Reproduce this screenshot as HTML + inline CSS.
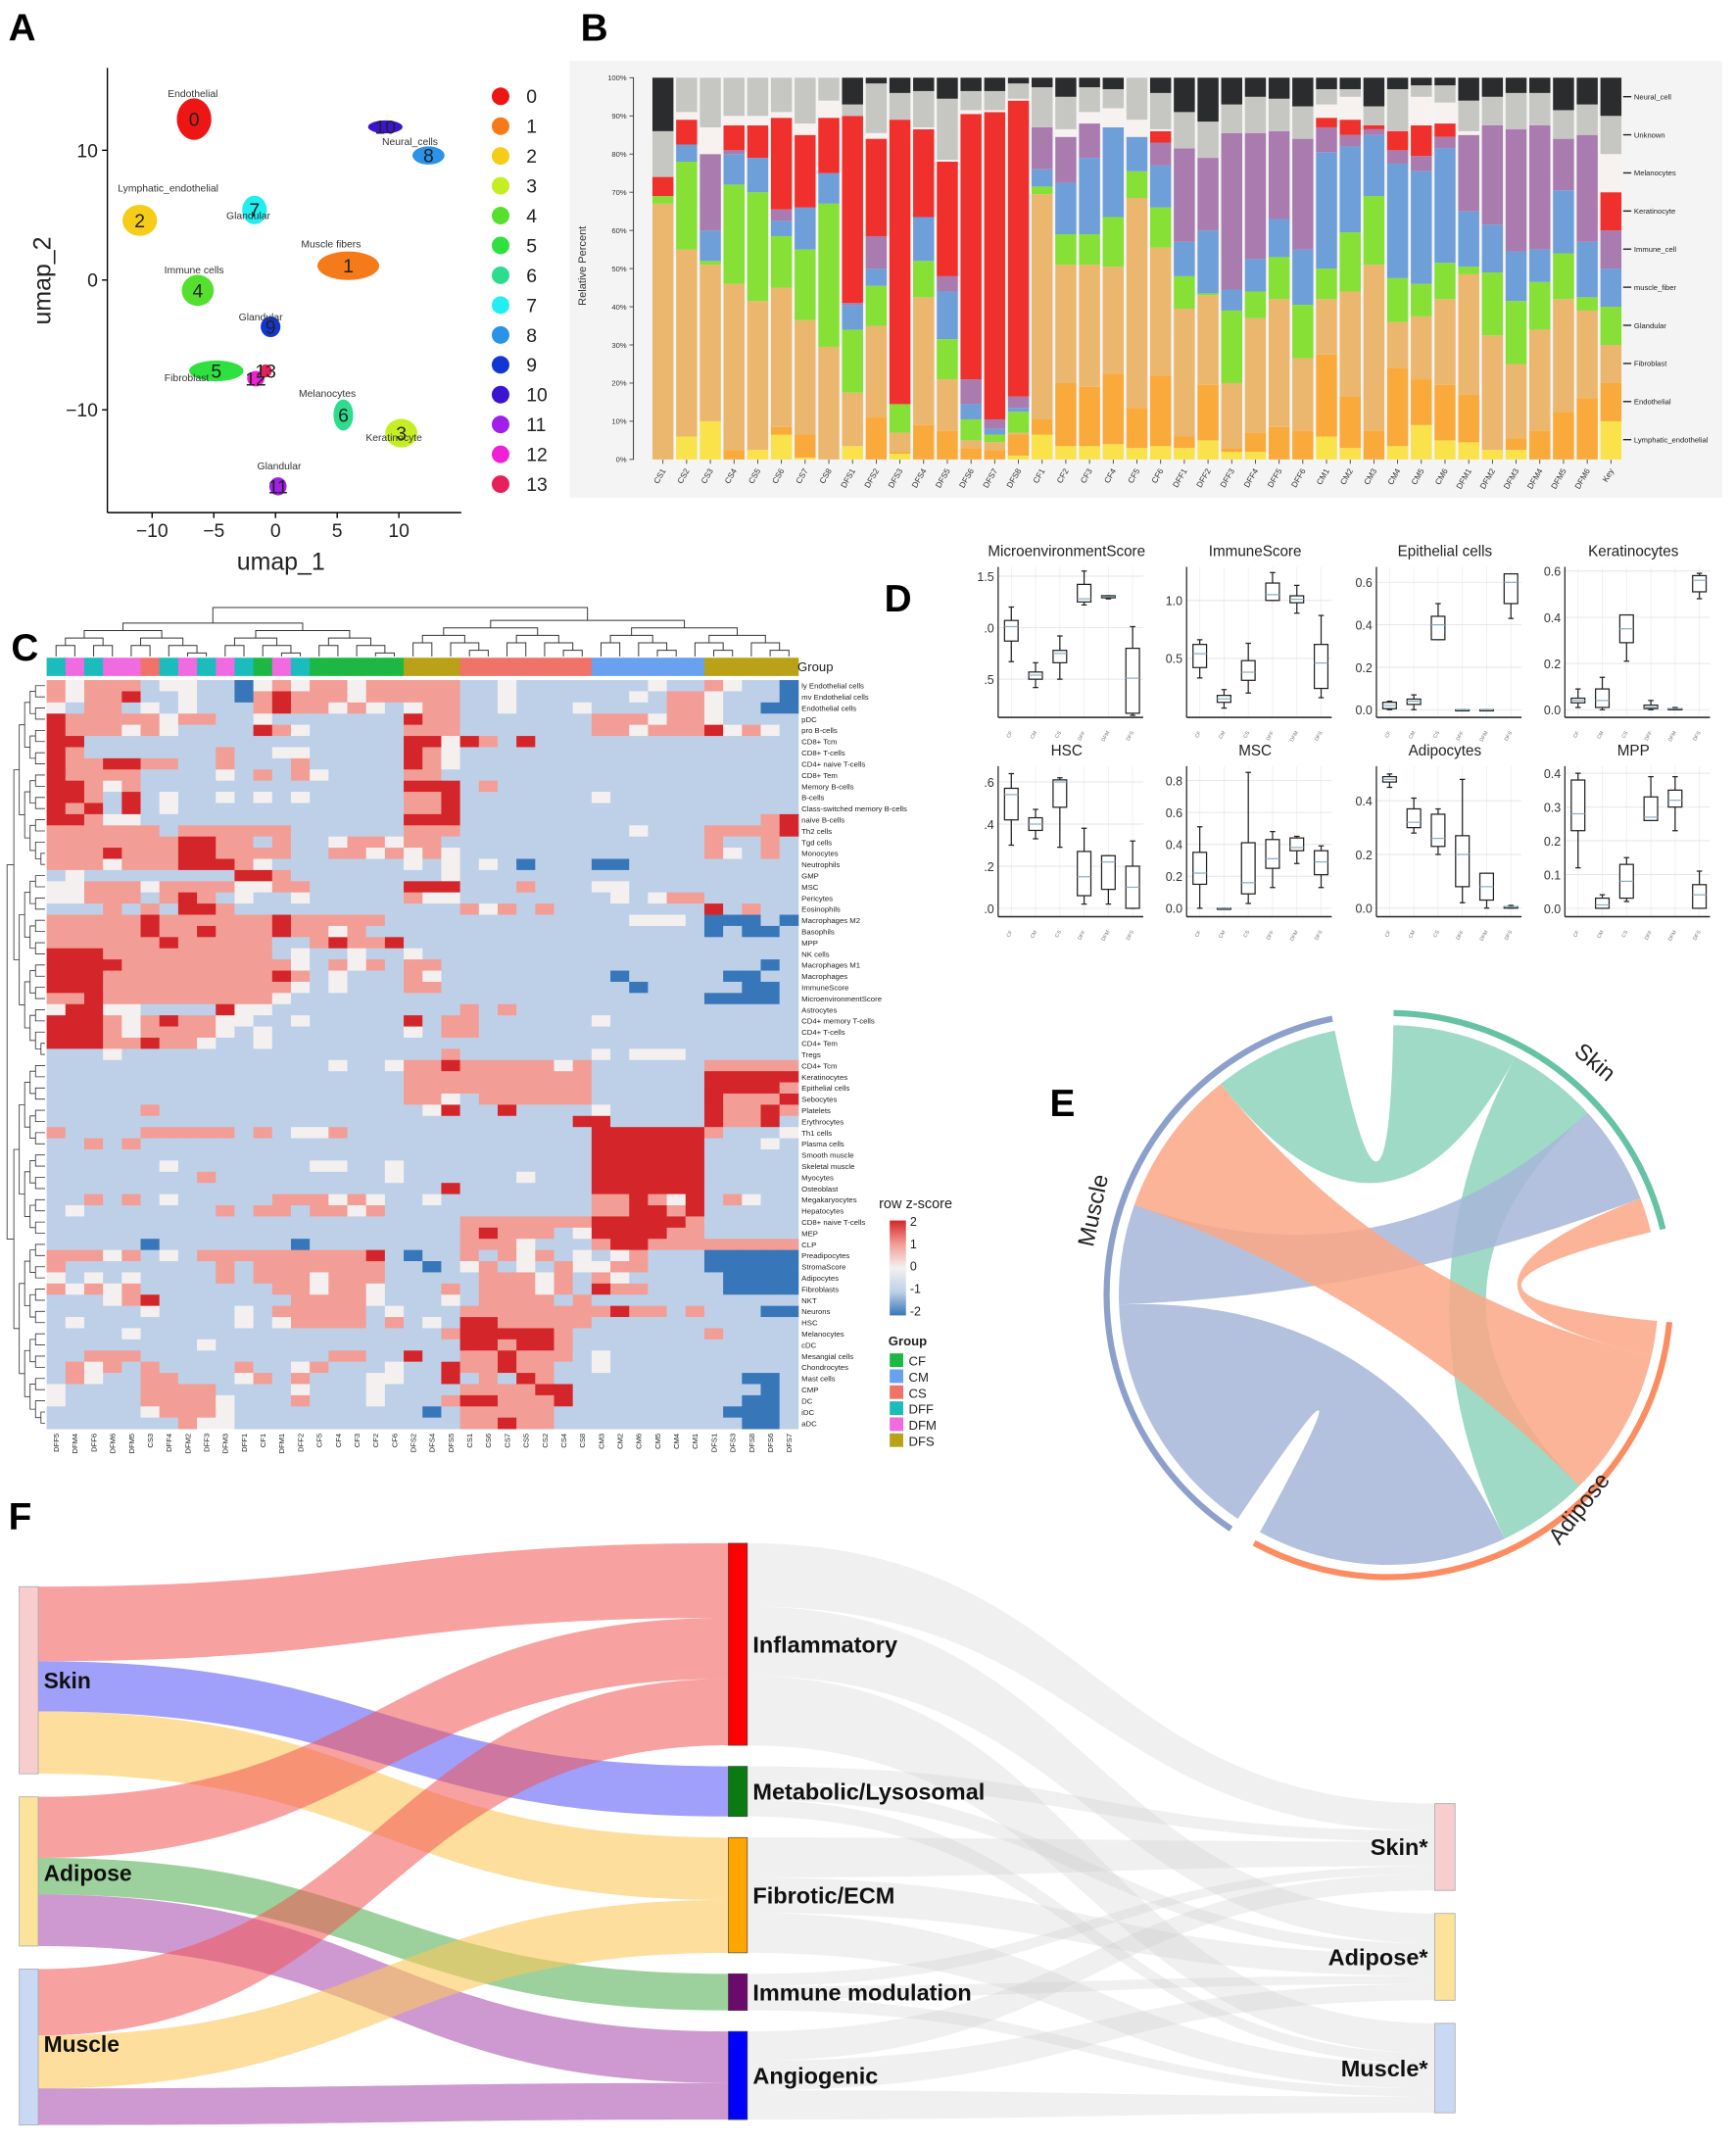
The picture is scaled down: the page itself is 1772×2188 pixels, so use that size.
<!DOCTYPE html>
<html><head><meta charset="utf-8">
<style>
html,body{margin:0;padding:0;background:#fff}
svg{display:block}
text{font-family:"Liberation Sans",sans-serif}
</style></head>
<body>
<svg id="fig" xmlns="http://www.w3.org/2000/svg" width="1772" height="2188" viewBox="0 0 1280 1581">
<rect x="0" y="0" width="1280" height="1581" fill="#fff"/>
</svg>
<script>
const NS='http://www.w3.org/2000/svg';
const svg=document.getElementById('fig');
function mk(p,tag,attrs,txt){const e=document.createElementNS(NS,tag);for(const k in attrs)e.setAttribute(k,attrs[k]);if(txt!==undefined)e.textContent=txt;p.appendChild(e);return e;}

/* ===================== PANEL A: UMAP ===================== */
const umapClusters=['0','1','2','3','4','5','6','7','8','9','10','11','12','13'];
const umapX=[-6.6,5.9,-11,10.2,-6.3,-4.8,5.5,-1.7,12.4,-0.4,8.9,0.2,-1.6,-0.8];
const umapY=[12.4,1.1,4.6,-11.8,-0.8,-7,-10.4,5.4,9.6,-3.6,11.8,-15.9,-7.6,-7];
const umapRx=[1.4,2.5,1.4,1.3,1.3,2.2,0.8,1.0,1.3,0.8,1.4,0.7,0.7,0.5];
const umapRy=[1.6,1.1,1.2,1.1,1.2,0.8,1.2,1.1,0.7,0.8,0.5,0.7,0.6,0.5];
const umapTickX=[-10,-5,0,5,10];
const umapTickY=[10,0,-10];
const umapLabelText=['Endothelial','Lymphatic_endothelial','Glandular','Muscle fibers','Immune cells','Glandular','Fibroblast','Melanocytes','Keratinocyte','Glandular','Neural_cells'];
const umapLabelX=[-6.7,-8.7,-2.2,4.5,-6.6,-1.2,-7.2,4.2,9.6,0.3,10.9];
const umapLabelY=[14.1,6.8,4.7,2.5,0.5,-3.1,-7.8,-9.0,-12.4,-14.6,10.4];
const umapColors=['#ee1515','#f57a1a','#f5cc18','#c4ee22','#55e030','#2ee040','#2edc8e','#22eef0','#2a92e8','#1236d4','#3a14d0','#a020e8','#ee22d4','#e6205a'];
const gA=mk(svg,'g',{});


const ax=u=>203+9.1*u, ay=u=>206.5-9.57*u;
for(let i=0;i<umapClusters.length;i++){
  const e=mk(gA,'ellipse',{cx:ax(umapX[i]),cy:ay(umapY[i]),rx:umapRx[i]*9.1,ry:umapRy[i]*9.57,fill:umapColors[i]});
  
  
  const t=mk(gA,'text',{x:ax(umapX[i]),y:ay(umapY[i])+5,'font-size':14,'text-anchor':'middle',fill:'#222'},umapClusters[i]);
  
  
}
for(let i=0;i<umapLabelText.length;i++){
  const t=mk(gA,'text',{x:ax(umapLabelX[i]),y:ay(umapLabelY[i]),'font-size':7.5,'text-anchor':'middle',fill:'#333'},umapLabelText[i]);
  
  
}
mk(gA,'line',{x1:79,y1:50,x2:79,y2:378,stroke:'#000','stroke-width':1});
mk(gA,'line',{x1:79,y1:378,x2:340,y2:378,stroke:'#000','stroke-width':1});
for(const v of umapTickX){
  mk(gA,'line',{x1:ax(v),y1:378,x2:ax(v),y2:382,stroke:'#000'});
  const t=mk(gA,'text',{x:ax(v),y:396,'font-size':14,'text-anchor':'middle',fill:'#222'},v<0?'\u2212'+(-v):String(v));
  
  
}
for(const v of umapTickY){
  mk(gA,'line',{x1:75,y1:ay(v),x2:79,y2:ay(v),stroke:'#000'});
  const t=mk(gA,'text',{x:72,y:ay(v)+5,'font-size':14,'text-anchor':'end',fill:'#222'},v<0?'\u2212'+(-v):String(v));
  
  
}
let t0=mk(gA,'text',{x:207,y:420,'font-size':18,'text-anchor':'middle',fill:'#222'},'umap_1');


t0=mk(gA,'text',{x:37,y:207,'font-size':18,'text-anchor':'middle',fill:'#222',transform:'rotate(-90 37 207)'},'umap_2');


for(let i=0;i<umapClusters.length;i++){
  const c=mk(gA,'circle',{cx:369,cy:71+i*22,r:6.5,fill:umapColors[i]});
  
  
  const t=mk(gA,'text',{x:388,y:76+i*22,'font-size':14,fill:'#222'},umapClusters[i]);
  
  
}

/* ===================== PANEL B: stacked bars ===================== */
const bBars=['CS1','CS2','CS3','CS4','CS5','CS6','CS7','CS8','DFS1','DFS2','DFS3','DFS4','DFS5','DFS6','DFS7','DFS8','CF1','CF2','CF3','CF4','CF5','CF6','DFF1','DFF2','DFF3','DFF4','DFF5','DFF6','CM1','CM2','CM3','CM4','CM5','CM6','DFM1','DFM2','DFM3','DFM4','DFM5','DFM6','Key'];
const bCellTypes=['Lymphatic_endothelial','Endothelial','Fibroblast','Glandular','muscle_fiber','Immune_cell','Keratinocyte','Melanocytes','Unknown','Neural_cell'];
const cumLymph=[0,6,10,0,2.5,6.5,0.5,0,3.5,0,1.5,0,0,0,0,1,6.5,3.5,3.5,4,3,3.5,3,5,2,2,0,0,6,3,0,3.5,9,5,4.5,2.5,2.5,0,0,0,10];
const cumEndo=[0,6,10,2.5,2.5,8.5,6.5,0,3.5,11,2,9,7.5,3,2.5,6.5,10.5,20,19,22.5,13.5,22,6,19.5,3,7,8.5,7.5,27.5,16.5,7.5,24,21,19.5,17,2.5,5.5,7.5,12.5,16,20];
const cumFibro=[67,55,51,46,41.5,45,36.5,29.5,17.5,35,7,42.5,21,5,4.5,7,69.5,51,51,50.5,68.5,55.5,39.5,43,20,37,42,26.5,42,44,51,36,37.5,42,48.5,32.5,25,34,42,39,30];
const cumGland=[69,78,52,72,70,58.5,55,67,34,45.5,14.5,52,31.5,10.5,6.5,12.5,71.5,59,59,63.5,75.5,66,48,43.5,39,44,53,40.5,50,59.5,69,47.5,46,51.5,50.5,49,41.5,46.5,54,42.5,40];
const cumMuscle=[69,82.5,60,80,79,62.5,66,75,40.5,50,14.5,63.5,44,14.5,8,13.5,76,72.5,79,87,84.5,77,57,60,44.5,52.5,63,55,80.5,82,85,77.5,75.5,81.5,65,61.5,54.5,55,70.5,57,50];
const cumImmune=[69,82.5,80,81,79,65.5,66,75,41,58.5,14.5,63.5,48,21,10.5,16.5,87,84.5,88,87,84.5,83,81.5,79,85.5,85.5,86,84,87,85,86.5,81,79.5,84.5,85,87.5,86.5,87.5,84,85,60];
const cumKera=[74,89,80,87.5,87.5,89.5,85,89.5,90,84,89,86.5,78,90.5,91,94,87,84.5,88,87,84.5,86,81.5,79,85.5,85.5,86,84,89.5,89,87.5,86,87.5,88,85,87.5,86.5,87.5,84,85,70];
const cumMelano=[74,91,87,90,90,91,88,94,90,85.5,89,87,78.5,91.5,91.5,94.5,87,86.5,91,92,89,86.5,81.5,79,85.5,85.5,86,84,93,95,87.5,86,95,93.5,86,87.5,86.5,87.5,84,85,80];
const cumUnknown=[86,100,100,100,100,100,100,100,93,98.5,96,96.5,94.5,96.5,96.5,98.5,97.5,95,97.5,97,100,96,91,88.5,93,95,94.5,92.5,97,97,92.5,97,98,98,94,95,96,96,91.5,93,90];
const cumNeural=bBars.map(()=>100);
const bSeries=[cumLymph,cumEndo,cumFibro,cumGland,cumMuscle,cumImmune,cumKera,cumMelano,cumUnknown,cumNeural];
const bTicks=[0,10,20,30,40,50,60,70,80,90,100];
const bColors=['#f9e24a','#f9aa3a','#ebb76f','#86e036','#6f9fd8','#a97bae','#f0302c','#f7f2ef','#c6c6c2','#2b2c2e'];
const gB=mk(svg,'g',{});


mk(gB,'rect',{x:420,y:45,width:850,height:322,fill:'#f4f4f4'});
const by=p=>338.8-p*2.815, bx=i=>481+i*17.48;
for(let i=0;i<bBars.length;i++){
  let prev=0;
  for(let s=0;s<bSeries.length;s++){
    const top=bSeries[s][i];
    if(top>prev){
      const r=mk(gB,'rect',{x:bx(i),y:by(top),width:15.5,height:by(prev)-by(top),fill:bColors[s]});
      
      
      prev=top;
    }
  }
  mk(gB,'line',{x1:bx(i)+7.75,y1:339,x2:bx(i)+7.75,y2:342,stroke:'#333','stroke-width':0.6});
  const t=mk(gB,'text',{x:bx(i)+10,y:347,'font-size':6,'text-anchor':'end',fill:'#333',transform:'rotate(-60 '+(bx(i)+10)+' 347)'},bBars[i]);
  
  
}
mk(gB,'line',{x1:467,y1:57,x2:467,y2:339,stroke:'#333','stroke-width':0.7});
for(const v of bTicks){
  mk(gB,'line',{x1:464,y1:by(v),x2:467,y2:by(v),stroke:'#333','stroke-width':0.6});
  const t=mk(gB,'text',{x:462,y:by(v)+2,'font-size':5.5,'text-anchor':'end',fill:'#333'},v+'%');
  
  
}
t0=mk(gB,'text',{x:432,y:196,'font-size':8,'text-anchor':'middle',fill:'#333',transform:'rotate(-90 432 196)'},'Relative Percent');


for(let k=0;k<bCellTypes.length;k++){
  const yy=71.3+k*28.1;
  mk(gB,'line',{x1:1197,y1:yy,x2:1203,y2:yy,stroke:'#222','stroke-width':1});
  const t=mk(gB,'text',{x:1205,y:yy+2,'font-size':5.5,fill:'#222'},bCellTypes[bCellTypes.length-1-k]);
  
  
}

/* ===================== PANEL C: heatmap ===================== */
const hmCols=['DFF5','DFM4','DFF6','DFM6','DFM5','CS3','DFF4','DFM2','DFF3','DFM3','DFF1','CF1','DFM1','DFF2','CF5','CF4','CF3','CF2','CF6','DFS2','DFS4','DFS5','CS1','CS6','CS7','CS5','CS2','CS4','CS8','CM3','CM2','CM6','CM5','CM4','CM1','DFS1','DFS3','DFS8','DFS6','DFS7'];
const hmRowNames=['ly Endothelial cells','mv Endothelial cells','Endothelial cells','pDC','pro B-cells','CD8+ Tcm','CD8+ T-cells','CD4+ naive T-cells','CD8+ Tem','Memory B-cells','B-cells','Class-switched memory B-cells','naive B-cells','Th2 cells','Tgd cells','Monocytes','Neutrophils','GMP','MSC','Pericytes','Eosinophils','Macrophages M2','Basophils','MPP','NK cells','Macrophages M1','Macrophages','ImmuneScore','MicroenvironmentScore','Astrocytes','CD4+ memory T-cells','CD4+ T-cells','CD4+ Tem','Tregs','CD4+ Tcm','Keratinocytes','Epithelial cells','Sebocytes','Platelets','Erythrocytes','Th1 cells','Plasma cells','Smooth muscle','Skeletal muscle','Myocytes','Osteoblast','Megakaryocytes','Hepatocytes','CD8+ naive T-cells','MEP','CLP','Preadipocytes','StromaScore','Adipocytes','Fibroblasts','NKT','Neurons','HSC','Melanocytes','cDC','Mesangial cells','Chondrocytes','Mast cells','CMP','DC','iDC','aDC'];
const hmValues=[
"dcddd bccbbacd cddcdd ddd bbcbbbb bbbcbb dcbba","dcdde bbcbbade dddcdd ddd bbcbbbb bbcbdd cbbba","cbddb cbcbbbde ddcdcb cdd bbcbbbc bbbbdd cbbaa",
"edddd dcddbbcb bbbbbb edd bbbbbbb dddcdd cbbbb","edddc dcbbbbed cbbbbb ddd bbbbbbb ddcddd ecdcb","eebbb bbbbbbbb bbbbbb eec edbebbb bbbbbb bbbbb",
"edbbb bbbbdbbc cbbbbb edc bbbbbbb bbbbbb bbbbb","eddee ddbbdbbb dbbbbb edc bbbbbbb bbbbbb bbbbb","edddd bbbbcbdb dcbbbb ddb bbbbbbb bbbbbb bbbbb",
"eedcd bbbbbbbb bbbbbb eee bdbbbbb bbbbbb bbbbb","eedbe bcbbcbcb cbbbbb dde bbbbbbb cbbbbb bbbbb","edebe bcbbbbbb bbbbbb dde bbbbbbb bbbbbb bbbbb",
"eedcc bbbbbbbb bbbbbb eee bbbbbbb bbbbbb bbbde","ddddd dbdddddd bbbbbb ddd bbbbbbb bbcbbb dddde","ddddd ddeeddbd bbcddc ddb bbbbbbb bbbbbb dbbdb",
"ddded ddeedddd bbddcd cdc bbbbbbb bbbbbb dcbdb","dddcd ddeeedcb bbbbbb cbc bcbabbb aabbbb bbbbb","bcbbb bbbbbeed bbbbbb bbc bbbbbbb bbbbbb bbbbb",
"ccddd cddddccd dbbbbb eee bbbdbbb ccbbbb bbbbb","ccddd bdedbcbb cbbbbb dcc bbbbbbb bcbcdd bbbbb","bbbdb dbeedbbb bbbbbb bbb dcdbdbb bbbbbb ebdbb",
"ddddd edddddde dddddb bbb bbbbbbb bbcccb aaaba","ddddd eddeddde ddcdbb bbb bbbbbbb bbbbbb abaab","ddddd dedddddb bdedde bbb bbbbbbb bbbbbb bbbbb",
"eeedd dddddddb cbbcbb cbb bbbbbbb bbbbbb bbbbb","eeeed dddddddd cbdcdb ddb bbbbbbb bbbbbb bbbab","eeedd ddddddde dbcbbb dcb bbbbbbb babbbb baabb",
"eeedd dddddddd cbcbbb ddb bbbbbbb bbabbb bbaab","ddedd dddddddc bbbbbb bbb bbbbbbb bbbbbb aaaab","ceecc bbbbeccb bbbbbb bbb dbdbbbb bbbbbb bbbbb",
"eeedc deddccbb cbbbbb ebd dbbbbbb cbbbbb bbbbb","eeedc ddddcbcb bbbbbb cbd dbbbbbb bbbbbb bbbbb","eeedd eddcbbcb bbbbbb bbb bbbbbbb bbbbbb bbbbb",
"bbbcb bbbbbbbb bbbbbb bbd bbbbbbb cbcccb bbbbb","bbbbb bbbbbbbb bbcbbc dde dddddcd bbbbbb ddddd","bbbbb bbbbbbbb bbbbbb ddd ddddddd bbbbbb eeeee",
"bbbbb bbbbbbbb bbbbbb ddd ddddddd bbbbbb eeeed","bbbbb bbbbbbbb bbbbbb ddc bdddddd bbbbbb eddde","bbbbb dbbbbbbb bbbbbb bce bbebbbb cbbbbb edded",
"bbbbb bbbbbbbb bbbbbb bbb bbbbbbe ebbbbb eddeb","dbbbb dddddbdb ccdbbb bbb bbbbbbb eeeeee dbbbc","bbdbd bbbbbbbb bbbbbb bbb bbbbbbb eeeeee bbbcb",
"bbbbb bbbbbbbb bbbbbb bbb bbbbbbb eeeeee bbbbb","bbbbb bcbbbbbb bccbbc bbb bbbbbbb eeeeee bbbbb","bbbbb bbbdbbbb bbbbbc bbb bbbcbbb eeeeee bbbbb",
"bbbbb bbbbbbbb bbbbbb bbe bbbbbbb eeeeee bbbbb","bbdbd bcbbbbbd ddcdcb bcb bbbbbbb ddedce bdcbb","bcbbb bbbbdbdd bddcdb bbb bbbbbbb ddeede bbbbb",
"bbbbb bbbbbbbb bbbbbb bbb ddddddd eeeeed bbbbb","bbbbb bbbbbbbb bbbbbb bbb dedddbc eeeedd bbbbb","bbbbb abbbbbbb abbbbb bbb dddcbbb deeddd ddddd",
"dddcd bcbddddd ddddeb abb dbdcdbc bcdbbb aaaaa","dbbbb bbbbdbdd dddddb bab cdbcbdc cddbbb aaaaa","cbcbc bbbbdbdd dcdddb bbb bdddcdb dcbbbb baaaa",
"dcdcd bbbbbbbd dcddcb bbd bdddcdb eddbbb baaaa","bbbcd ebbbbbbb ddddcb bbc bddddbd bbbbbb bbbbb","bbbbb cbbbbcbd ddddbc bbb ddddddd deddbd bbbaa",
"bcbbb bbbbbcbc ddddbd bcb eeddddd bbbbbb bbbbb","bbbbc bbbbbbbb bbbbbb bbd eeeeedb bbbbbb dbbbb","bbbbb bbbcbbbb bbbbbb bbb eedeedb bbbbbb bbbbb",
"bbddd bbbbbbbb bbddbb ebb ddedddb cbbbbb bbbbb","bdcdb dbbbbdbb cdbbbc bbe ddeddbb cbbbbb bbbbb","bdcbb ddbbbcdb dbbbcc bbe bdbedbb bbbbbb bbaab",
"cbbbb ddddbbbb cbbbcb bbb ddddeeb bbbbbb bbbab","cbbbb ddddcbbb dbbbcb bbd eedddeb bbbbbb bbaab","bbbbb cdddcbbb bbbbbb bab dddddbb bbbbbb baaab",
"bbbbb bbdccbbb bbbbbb bbb ddeddbb bbbbbb bbaab"];
const hmLevels={a:-2,b:-1,c:0,d:1,e:2};
const hmGroupNames=['CF','CM','CS','DFF','DFM','DFS'];
const hmGroupColors={CF:'#1db843',CM:'#6aa0f0',CS:'#f0736a',DFF:'#1cbcbc',DFM:'#f06ae0',DFS:'#b9a118'};
function zColor(z){
  const stops=[[-2,[55,118,185]],[-1,[190,208,232]],[0,[244,240,240]],[1,[242,158,150]],[2,[212,38,42]]];
  for(let i=0;i<stops.length-1;i++){const[a,ca]=stops[i],[b,cb]=stops[i+1];if(z<=b){const t=(z-a)/(b-a);return 'rgb('+ca.map((c,j)=>Math.round(c+(cb[j]-c)*t)).join(',')+')';}}
  return 'rgb(212,38,42)';
}
const gC=mk(svg,'g',{});


const hx0=34.2,hcw=13.86,hy0=501.5,hrh=8.24;
for(let c=0;c<hmCols.length;c++){
  const grp=hmCols[c].replace(/[0-9]/g,'');
  const r=mk(gC,'rect',{x:hx0+c*hcw,y:485,width:hcw+0.3,height:13.5,fill:hmGroupColors[grp]});
  
  
  const t=mk(gC,'text',{x:hx0+c*hcw+9,y:1057,'font-size':5.5,'text-anchor':'end',fill:'#222',transform:'rotate(-90 '+(hx0+c*hcw+9)+' 1057)'},hmCols[c]);
  
  
}
for(let r=0;r<hmRowNames.length;r++){
  const s=hmValues[r].replace(/ /g,'');
  for(let c=0;c<hmCols.length;c++){
    const ch=s[c]||'b';
    const cell=mk(gC,'rect',{x:hx0+c*hcw,y:hy0+r*hrh,width:hcw+0.3,height:hrh+0.3,fill:zColor(hmLevels[ch])});
    
    
  }
  const t=mk(gC,'text',{x:591,y:hy0+r*hrh+6.2,'font-size':5.6,fill:'#222'},hmRowNames[r]);
  
  
}
t0=mk(gC,'text',{x:588,y:495,'font-size':9.5,fill:'#222'},'Group');


function topTree(lo,hi,ytop,depth){
  const cx=i=>hx0+(i+0.5)*hcw;
  if(hi-lo<=1) return {x:cx(lo),y:485};
  const mid=Math.floor((lo+hi)/2);
  const yc=ytop+(depth)*5.5;
  const L=topTree(lo,mid,ytop,depth+1),R=topTree(mid,hi,ytop,depth+1);
  mk(gC,'path',{d:'M'+L.x+' '+(L.y===485?484:L.y)+'V'+yc+'H'+R.x+'V'+(R.y===485?484:R.y),fill:'none',stroke:'#333','stroke-width':0.7});
  return {x:(L.x+R.x)/2,y:yc};
}
const dendTop=mk(gC,'g',{});


(function(){const A=topTree(0,19,454,1),B=topTree(19,40,452,1);mk(gC,'path',{d:'M'+A.x+' '+A.y+'V448H'+B.x+'V'+B.y,fill:'none',stroke:'#333','stroke-width':0.7});})();
function leftTree(lo,hi,depth){
  const cy=i=>hy0+(i+0.5)*hrh;
  if(hi-lo<=1) return {x:33,y:cy(lo)};
  const mid=Math.floor((lo+hi)/2);
  const xc=6+depth*4;
  const L=leftTree(lo,mid,depth+1),R=leftTree(mid,hi,depth+1);
  mk(gC,'path',{d:'M'+L.x+' '+L.y+'H'+xc+'V'+R.y+'H'+R.x,fill:'none',stroke:'#333','stroke-width':0.6});
  return {x:xc,y:(L.y+R.y)/2};
}
(function(){const A=leftTree(0,34,1),B=leftTree(34,67,1);mk(gC,'path',{d:'M'+A.x+' '+A.y+'H5V'+B.y+'H'+B.x,fill:'none',stroke:'#333','stroke-width':0.6});})();
const defs=mk(svg,'defs',{});
const lg=mk(defs,'linearGradient',{id:'zg',x1:0,y1:0,x2:0,y2:1});
[['0','rgb(212,38,42)'],['0.25','rgb(242,158,150)'],['0.5','rgb(244,240,240)'],['0.75','rgb(190,208,232)'],['1','rgb(55,118,185)']].forEach(s=>mk(lg,'stop',{offset:s[0],'stop-color':s[1]}));
t0=mk(gC,'text',{x:648,y:891,'font-size':10.5,fill:'#222'},'row z-score');


const cbar=mk(gC,'rect',{x:656,y:900,width:12,height:70,fill:'url(#zg)'});


['2','1','0','-1','-2'].forEach((s,i)=>{const t=mk(gC,'text',{x:671,y:904+i*16.5,'font-size':9,fill:'#222'},s);});
t0=mk(gC,'text',{x:655,y:992,'font-size':9.5,'font-weight':'bold',fill:'#222'},'Group');


hmGroupNames.forEach((g,i)=>{
  const r=mk(gC,'rect',{x:656,y:998+i*11.8,width:10,height:10,fill:hmGroupColors[g]});
  
  
  const t=mk(gC,'text',{x:670,y:1007+i*11.8,'font-size':9.5,fill:'#222'},g);
  
  
});

/* ===================== PANEL D: boxplots ===================== */
const dGroups=['CF','CM','CS','DFF','DFM','DFS'];
const dTitles=['MicroenvironmentScore','ImmuneScore','Epithelial cells','Keratinocytes','HSC','MSC','Adipocytes','MPP'];
const statsMicro=[[0.67,0.87,1.01,1.07,1.2],[0.42,0.5,0.54,0.57,0.66],[0.5,0.66,0.75,0.78,0.92],[1.22,1.25,1.28,1.42,1.55],[1.28,1.29,1.3,1.31,1.31],[0.15,0.17,0.51,0.8,1.01]];
const statsImmune=[[0.33,0.42,0.54,0.62,0.66],[0.07,0.12,0.15,0.18,0.23],[0.2,0.31,0.38,0.48,0.63],[1.0,1.0,1.05,1.15,1.24],[0.89,0.98,1.01,1.04,1.13],[0.16,0.24,0.46,0.62,0.87]];
const statsEpi=[[0,0.005,0.02,0.035,0.04],[0,0.025,0.04,0.05,0.07],[0.33,0.33,0.4,0.44,0.5],[0,0,0,0,0],[0,0,0,0,0],[0.43,0.5,0.6,0.64,0.64]];
const statsKera=[[0.01,0.03,0.04,0.05,0.09],[0,0.01,0.04,0.09,0.14],[0.21,0.29,0.35,0.41,0.41],[0,0.005,0.01,0.02,0.04],[0,0,0.005,0.005,0.01],[0.48,0.51,0.56,0.58,0.59]];
const statsHSC=[[0.3,0.42,0.54,0.57,0.64],[0.33,0.37,0.4,0.43,0.47],[0.29,0.48,0.6,0.61,0.62],[0.02,0.06,0.15,0.27,0.38],[0.02,0.09,0.22,0.25,0.25],[0,0,0.1,0.2,0.32]];
const statsMSC=[[0,0.15,0.22,0.35,0.51],[0,0,0,0,0],[0.03,0.09,0.16,0.41,0.85],[0.13,0.25,0.31,0.43,0.48],[0.28,0.36,0.38,0.44,0.45],[0.13,0.21,0.29,0.36,0.39]];
const statsAdipo=[[0.45,0.47,0.48,0.49,0.5],[0.28,0.3,0.32,0.37,0.41],[0.2,0.23,0.26,0.35,0.37],[0.02,0.08,0.2,0.27,0.48],[0,0.03,0.08,0.13,0.13],[0,0,0.005,0.005,0.01]];
const statsMPP=[[0.12,0.23,0.28,0.38,0.4],[0,0,0.01,0.03,0.04],[0.02,0.03,0.08,0.13,0.15],[0.26,0.26,0.27,0.33,0.39],[0.23,0.3,0.32,0.35,0.39],[0,0,0.04,0.07,0.11]];
const dStats=[statsMicro,statsImmune,statsEpi,statsKera,statsHSC,statsMSC,statsAdipo,statsMPP];
const dTicks=[[1.5,1.0,0.5],[1.0,0.5],[0.6,0.4,0.2,0.0],[0.6,0.4,0.2,0.0],[0.6,0.4,0.2,0.0],[0.8,0.6,0.4,0.2,0.0],[0.4,0.2,0.0],[0.4,0.3,0.2,0.1,0.0]];
const dTickLabels=[['1.5','.0','.5'],['1.0','0.5'],['0.6','0.4','0.2','0.0'],['0.6','0.4','0.2','0.0'],['.6','.4','.2','.0'],['0.8','0.6','0.4','0.2','0.0'],['0.4','0.2','0.0'],['0.4','0.3','0.2','0.1','0.0']];
const dDomTop=[1.59,1.29,0.673,0.618,0.675,0.889,0.529,0.421];
const dDomBot=[0.13,-0.01,-0.036,-0.033,-0.04,-0.053,-0.032,-0.025];
const dLeft=[736,875,1015,1154,736,875,1015,1154];
const dTop=[418,418,418,418,565,565,565,565];
const gD=mk(svg,'g',{});


for(let p=0;p<8;p++){
  const L=dLeft[p],T=dTop[p],W=107,H=111;
  const ysc=v=>T+(dDomTop[p]-v)/(dDomTop[p]-dDomBot[p])*H;
  const gp=mk(gD,'g',{});
  
  
  for(let i=0;i<6;i++){const xg=L+9.7+i*17.9;mk(gp,'line',{x1:xg,y1:T,x2:xg,y2:T+H,stroke:'#eee','stroke-width':0.6});}
  dTicks[p].forEach((v,k)=>{
    mk(gp,'line',{x1:L,y1:ysc(v),x2:L+W,y2:ysc(v),stroke:'#e6e6e6','stroke-width':0.7});
    const t=mk(gp,'text',{x:L-3,y:ysc(v)+3.5,'font-size':9,'text-anchor':'end',fill:'#333'},dTickLabels[p][k]);
    
    
  });
  mk(gp,'line',{x1:L,y1:T,x2:L,y2:T+H,stroke:'#222','stroke-width':0.9});
  mk(gp,'line',{x1:L,y1:T+H,x2:L+W,y2:T+H,stroke:'#222','stroke-width':1.1});
  const tt=mk(gp,'text',{x:L+W/2-3,y:T-8,'font-size':11,'text-anchor':'middle',fill:'#222'},dTitles[p]);
  
  
  dStats[p].forEach((s,i)=>{
    const xc=L+9.7+i*17.9;
    const wh=mk(gp,'path',{d:'M'+xc+' '+ysc(s[0])+'V'+ysc(s[1])+'M'+xc+' '+ysc(s[3])+'V'+ysc(s[4])+'M'+(xc-2)+' '+ysc(s[0])+'H'+(xc+2)+'M'+(xc-2)+' '+ysc(s[4])+'H'+(xc+2),stroke:'#222','stroke-width':0.9,fill:'none'});
    
    
    const bx2=mk(gp,'rect',{x:xc-5,y:ysc(s[3]),width:10,height:Math.max(0.8,ysc(s[1])-ysc(s[3])),fill:'#fff',stroke:'#222','stroke-width':0.9});
    
    
    mk(gp,'line',{x1:xc-5,y1:ysc(s[2]),x2:xc+5,y2:ysc(s[2]),stroke:'#8fb0c0','stroke-width':0.9});
    const t=mk(gp,'text',{x:xc+1,y:T+H+11,'font-size':3.8,'text-anchor':'end',fill:'#777',transform:'rotate(-60 '+(xc+1)+' '+(T+H+11)+')'},dGroups[i]);
    
    
  });
}

/* ===================== PANEL E: chord ===================== */
const chordGroups=['Skin','Adipose','Muscle'];
const flowA=['Muscle','Skin','Skin','Skin','Muscle','Muscle'];
const flowB=['Skin','Adipose','Muscle','Adipose','Adipose','Adipose'];
const flowVal=[27,19.5,21.5,7.5,32,54];
const flowColorGroup=['Skin','Skin','Muscle','Adipose','Adipose','Muscle'];
const chordStart={Skin:1,Adipose:95.5,Muscle:214};
const chordOrder={Skin:[0,1,2,3],Adipose:[3,4,1,5],Muscle:[5,2,4,0]};
const chordRibbon={Skin:'#8dd3bb',Adipose:'#fca786',Muscle:'#a7b6d8'};
const chordArc={Skin:'#66c2a5',Adipose:'#fc8d62',Muscle:'#8da0cb'};
const gE=mk(svg,'g',{});


const ccx=1024,ccy=955,cR=199,aR=208;
const P=(a,r)=>[ccx+r*Math.sin(a*Math.PI/180),ccy-r*Math.cos(a*Math.PI/180)];
const ends={};
chordGroups.forEach(g=>{
  let a=chordStart[g];
  chordOrder[g].forEach(f=>{ends[g+'-'+f]=[a,a+flowVal[f]];a+=flowVal[f];});
  const ar=mk(gE,'path',{d:'M'+P(chordStart[g],aR).join(' ')+'A'+aR+' '+aR+' 0 '+((a-chordStart[g])>180?1:0)+' 1 '+P(a,aR).join(' '),fill:'none',stroke:chordArc[g],'stroke-width':4.5});
  
  
});
for(let f=0;f<flowVal.length;f++){
  const A=ends[flowA[f]+'-'+f],B=ends[flowB[f]+'-'+f];
  const d='M'+P(A[0],cR).join(' ')+'A'+cR+' '+cR+' 0 0 1 '+P(A[1],cR).join(' ')+'Q'+ccx+' '+ccy+' '+P(B[0],cR).join(' ')+'A'+cR+' '+cR+' 0 0 1 '+P(B[1],cR).join(' ')+'Q'+ccx+' '+ccy+' '+P(A[0],cR).join(' ')+'Z';
  const rb=mk(gE,'path',{d:d,fill:chordRibbon[flowColorGroup[f]],'fill-opacity':0.85});
  
  
}
t0=mk(gE,'text',{x:1160,y:777,'font-size':17,fill:'#222',transform:'rotate(40 1160 777)'},'Skin');


t0=mk(gE,'text',{x:1150,y:1140,'font-size':17,fill:'#222',transform:'rotate(-52 1150 1140)'},'Adipose');


t0=mk(gE,'text',{x:806,y:920,'font-size':17,fill:'#222',transform:'rotate(-78 806 920)'},'Muscle');



/* ===================== PANEL F: sankey ===================== */
const leftNodes=['Skin','Adipose','Muscle'];
const midNodes=['Inflammatory','Metabolic/Lysosomal','Fibrotic/ECM','Immune modulation','Angiogenic'];
const rightNodes=['Skin*','Adipose*','Muscle*'];
const lmSource=[0,0,0,1,1,1,2,2,2];
const lmTarget=[0,1,2,0,3,4,0,2,4];
const lmValue=[55,37,46,45,27,38,49,39,27];
const mrSource=[0,0,0,1,1,1,2,2,2,3,3,3,4,4,4];
const mrTarget=[0,1,2,0,1,2,0,1,2,0,1,2,0,1,2];
const mrValue=[20,22,22,8,8,8,18,16,18,6,6,6,12,12,12];
const gF=mk(svg,'g',{});


const sumBy=(idx,vals,n)=>{const s=new Array(n).fill(0);idx.forEach((k,i)=>s[k]+=vals[i]);return s;};
const leftH=sumBy(lmSource,lmValue,3), midH=sumBy(lmTarget,lmValue,5), midOut=sumBy(mrSource,mrValue,5), rightH=sumBy(mrTarget,mrValue,3);
const stack=(hs,start,gap)=>{let y=start;return hs.map(h=>{const r=y;y+=h+gap;return r;});};
const leftY=stack(leftH,1170,17), midY=stack(midH,1138,15.5), rightY=stack(rightH,1330,17);
const band=(x0,y0a,y0b,x1,y1a,y1b)=>{const xm=(x0+x1)/2;return 'M'+x0+' '+y0a+'C'+xm+' '+y0a+' '+xm+' '+y1a+' '+x1+' '+y1a+'L'+x1+' '+y1b+'C'+xm+' '+y1b+' '+xm+' '+y0b+' '+x0+' '+y0b+'Z';};
const midOutOff=midY.slice(), rightInOff=rightY.slice();
for(let i=0;i<mrValue.length;i++){
  const s=mrSource[i],t=mrTarget[i];
  const wm=mrValue[i]*midH[s]/midOut[s], wr=mrValue[i];
  const p=mk(gF,'path',{d:band(551,midOutOff[s],midOutOff[s]+wm,1058,rightInOff[t],rightInOff[t]+wr),fill:'rgb(200,200,200)','fill-opacity':0.28});
  
  
  midOutOff[s]+=wm; rightInOff[t]+=wr;
}
const flowColors=['rgba(242,84,84,0.55)','rgba(96,96,248,0.6)','rgba(251,200,92,0.6)','rgba(90,176,90,0.6)','rgba(165,70,170,0.55)'];
const leftOff=leftY.slice(), midInOff=midY.slice();
for(let i=0;i<lmValue.length;i++){
  const s=lmSource[i],t=lmTarget[i],w=lmValue[i];
  const p=mk(gF,'path',{d:band(28,leftOff[s],leftOff[s]+w,537,midInOff[t],midInOff[t]+w),fill:flowColors[t]});
  
  
  leftOff[s]+=w; midInOff[t]+=w;
}
const leftFill=['#f7cdcd','#fbe39c','#c9d9f4'];
const midFill=['#ff0000','#0b7a12','#ffa500','#6b0a6b','#0000ff'];
leftNodes.forEach((n,i)=>{
  const r=mk(gF,'rect',{x:14,y:leftY[i],width:14,height:leftH[i],fill:leftFill[i],stroke:'#aaa','stroke-width':0.6});
  
  
  const yl=[1245,1387,1513][i];
  const t=mk(gF,'text',{x:32,y:yl,'font-size':16.5,'font-weight':'bold',fill:'#111'},n);
  
  
});
midNodes.forEach((n,i)=>{
  const r=mk(gF,'rect',{x:537,y:midY[i],width:14,height:midH[i],fill:midFill[i],stroke:'#444','stroke-width':0.5});
  
  
  const t=mk(gF,'text',{x:555,y:midY[i]+midH[i]/2+6,'font-size':17,'font-weight':'bold',fill:'#111'},n);
  
  
});
rightNodes.forEach((n,i)=>{
  const r=mk(gF,'rect',{x:1058,y:rightY[i],width:15,height:rightH[i],fill:leftFill[i],stroke:'#aaa','stroke-width':0.6});
  
  
  const t=mk(gF,'text',{x:1053,y:rightY[i]+rightH[i]/2+6,'font-size':17,'font-weight':'bold','text-anchor':'end',fill:'#111'},n);
  
  
});

/* ===================== panel letters ===================== */
const letters=['A','B','C','D','E','F'];
const letterX=[6,428,8,652,774,6];
const letterY=[30,30,487,451,823,1128];
letters.forEach((l,i)=>{
  const t=mk(svg,'text',{x:letterX[i],y:letterY[i],'font-size':28,'font-weight':'bold',fill:'#000'},l);
  
  
});
</script>
</body></html>
